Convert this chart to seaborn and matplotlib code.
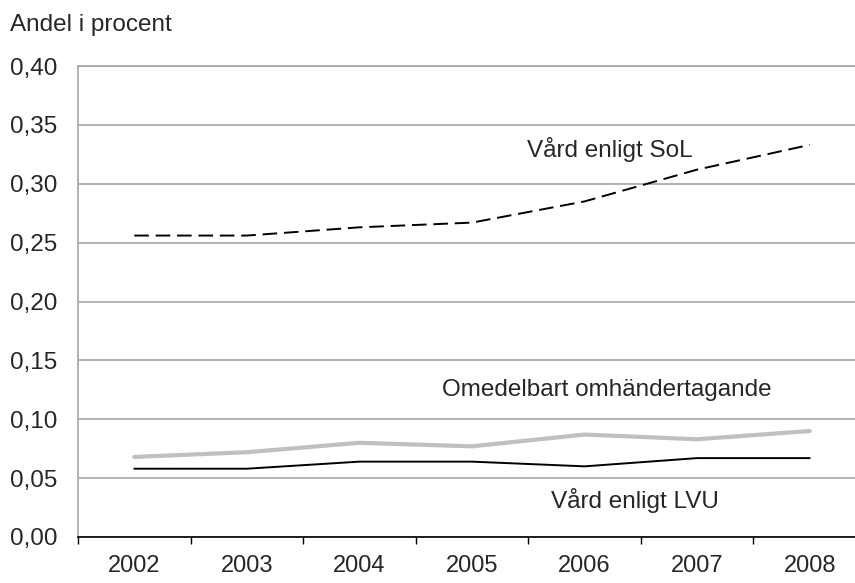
import numpy as np
import pandas as pd
import matplotlib
matplotlib.use("Agg")
import matplotlib.pyplot as plt
import seaborn as sns
from matplotlib.ticker import FixedLocator, FuncFormatter

# Data
years = ["2002", "2003", "2004", "2005", "2006", "2007", "2008"]
vard_sol = [0.256, 0.256, 0.263, 0.267, 0.285, 0.312, 0.333]
omedelbart = [0.068, 0.072, 0.080, 0.077, 0.087, 0.083, 0.090]
vard_lvu = [0.058, 0.058, 0.064, 0.064, 0.060, 0.067, 0.067]
y_ticks = [0.0, 0.05, 0.10, 0.15, 0.20, 0.25, 0.30, 0.35, 0.40]

sns.set_style("white")
plt.rcParams["font.family"] = ["Liberation Sans", "DejaVu Sans"]
FS = 17.5

df = pd.DataFrame({
    "pos": np.arange(len(years)),
    "sol": vard_sol,
    "omh": omedelbart,
    "lvu": vard_lvu,
})

fig = plt.figure(figsize=(8.55, 5.83), dpi=100)
ax = fig.add_axes([78 / 855, 1 - 537 / 583, (866 - 78) / 855, (537 - 66) / 583])

sns.lineplot(data=df, x="pos", y="omh", ax=ax, color="#c0c0c0", linewidth=3.0)
sns.lineplot(data=df, x="pos", y="lvu", ax=ax, color="black", linewidth=1.4)
sns.lineplot(data=df, x="pos", y="sol", ax=ax, color="black", linewidth=1.4)
ax.lines[-1].set_dashes((7.5, 3.5))

ax.set_xlim(-0.5, len(years) - 0.5)
ax.set_ylim(0, 0.40)
ax.set_yticks(y_ticks)
ax.yaxis.set_major_formatter(FuncFormatter(lambda v, p: f"{v:.2f}".replace(".", ",")))
ax.grid(axis="y", color="#a6a6a6", linewidth=1.2)
ax.tick_params(axis="y", length=0, pad=15, labelsize=FS)

ax.set_xticks(df["pos"])
ax.set_xticklabels(years)
ax.xaxis.set_minor_locator(FixedLocator(np.arange(-0.5, len(years), 1.0)))
ax.tick_params(axis="x", which="major", length=0, pad=13, labelsize=17)
ax.tick_params(axis="x", which="minor", length=5, width=1, color="black",
               direction="out", bottom=True)
ax.set_xlabel("")
ax.set_ylabel("")

for side in ["left", "top", "right"]:
    ax.spines[side].set_color("#a6a6a6")
    ax.spines[side].set_linewidth(1.2)
ax.spines["bottom"].set_color("black")
ax.spines["bottom"].set_linewidth(1.2)

ax.text(4.22, 0.329, "Vård enligt SoL", fontsize=FS, ha="center", va="center")
ax.text(4.2, 0.125, "Omedelbart omhändertagande", fontsize=FS, ha="center", va="center")
ax.text(4.45, 0.031, "Vård enligt LVU", fontsize=FS, ha="center", va="center")

fig.text(10 / 855, 1 - 25 / 583, "Andel i procent", fontsize=FS, ha="left", va="center")

fig.savefig("out.png", dpi=100)
